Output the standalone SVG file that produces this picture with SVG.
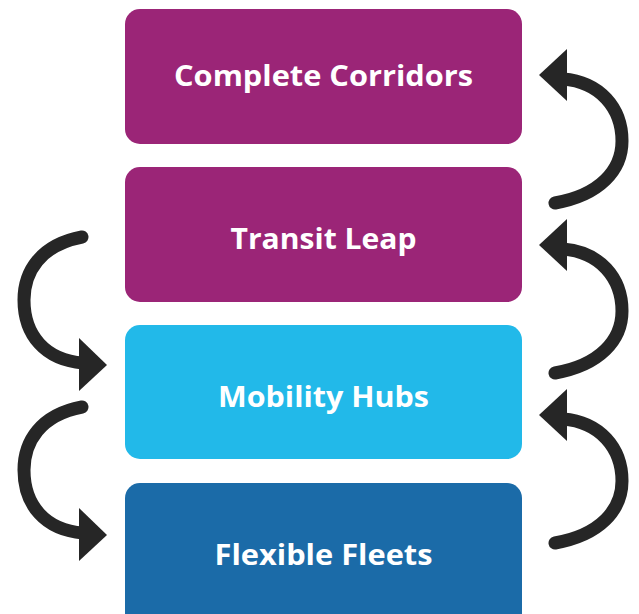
<svg xmlns="http://www.w3.org/2000/svg" width="639" height="614" viewBox="0 0 639 614">
  <defs>
    <style>
      .box-purple { fill: #9B2577; }
      .box-cyan { fill: #22B9E9; }
      .box-blue { fill: #1B6BA8; }
      .label { fill: #FFFFFF; font-family: "Open Sans", "Liberation Sans", sans-serif; font-weight: 700; font-size: 29px; text-anchor: middle; }
      .loop { fill: none; stroke: #262626; stroke-width: 13; stroke-linecap: round; }
      .head { fill: #262626; }
    </style>
  </defs>
  <rect x="0" y="0" width="639" height="614" fill="#FFFFFF"/>

  <g id="complete-corridors">
    <rect class="box-purple" x="125" y="9" width="397" height="135" rx="15"/>
    <text class="label" x="323.5" y="86" textLength="299" lengthAdjust="spacingAndGlyphs">Complete Corridors</text>
  </g>
  <g id="transit-leap">
    <rect class="box-purple" x="125" y="167" width="397" height="135" rx="15"/>
    <text class="label" x="323.5" y="249" textLength="186" lengthAdjust="spacingAndGlyphs">Transit Leap</text>
  </g>
  <g id="mobility-hubs">
    <rect class="box-cyan" x="125" y="325" width="397" height="134" rx="15"/>
    <text class="label" x="323.5" y="407" textLength="211" lengthAdjust="spacingAndGlyphs">Mobility Hubs</text>
  </g>
  <g id="flexible-fleets">
    <rect class="box-blue" x="125" y="483" width="397" height="145" rx="15"/>
    <text class="label" x="323.5" y="565" textLength="218" lengthAdjust="spacingAndGlyphs">Flexible Fleets</text>
  </g>

  <g id="connectors">
    <!-- right side: upward loops -->
    <path class="loop" d="M555,203 C600,195 622,170 622,141 C622,108 600,82 563,79"/>
    <polygon class="head" points="539,75 567,49 567,101"/>
    <path class="loop" d="M555,373 C600,365 622,340 622,311 C622,278 600,252 563,249"/>
    <polygon class="head" points="539,245 567,219 567,271"/>
    <path class="loop" d="M555,543 C600,535 622,510 622,481 C622,448 600,422 563,419"/>
    <polygon class="head" points="539,415 567,389 567,441"/>
    <!-- left side: downward loops -->
    <path class="loop" d="M82,237 C40,245 24,272 24,300 C24,335 45,360 83,363"/>
    <polygon class="head" points="107,365 79,338 79,391"/>
    <path class="loop" d="M82,407 C40,415 24,442 24,470 C24,505 45,530 83,533"/>
    <polygon class="head" points="107,535 79,508 79,561"/>
  </g>
</svg>
